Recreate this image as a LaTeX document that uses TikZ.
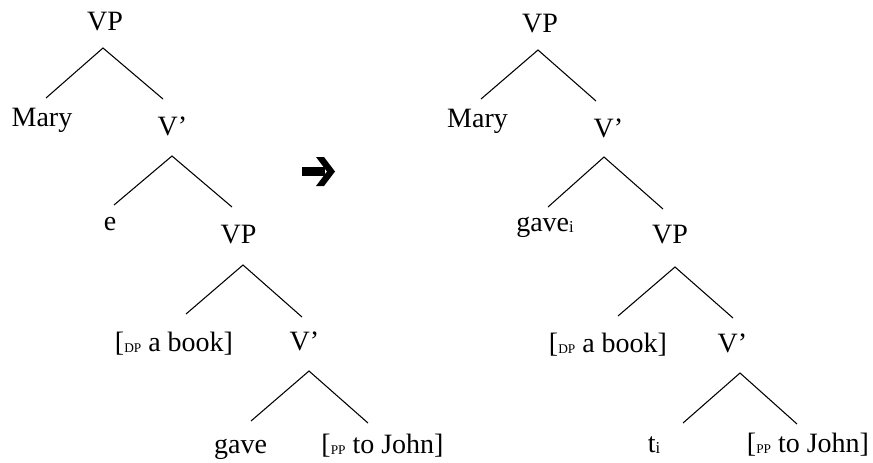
\documentclass[tikz,border=0pt]{standalone}
\usepackage{fontspec}
\setmainfont{Liberation Serif}
% small subscript used inside labels
\newcommand{\lsub}[1]{\raisebox{-0.9pt}{\fontsize{10}{10}\selectfont #1}}
\newcommand{\isub}[1]{\raisebox{-1pt}{\fontsize{12.5}{12.5}\selectfont #1}}
\begin{document}
\begin{tikzpicture}[x=0.75pt,y=-0.75pt,
  lbl/.style={anchor=base, inner sep=0pt, font=\fontsize{21}{25}\selectfont},
  branch/.style={draw=black, line width=0.8pt}]
\path[use as bounding box] (0,0) rectangle (873,462);

% ---------- left tree: before movement ----------
\node[lbl] (lVP)    at (105,30)  {VP};
\node[lbl] (lMary)  at (42,126)  {Mary};
\node[lbl] (lVb)    at (172.5,135) {V’};
\node[lbl] (lE)     at (110,230) {e};
\node[lbl] (lVPb)   at (238.5,243) {VP};
\node[lbl] (lDP)    at (174,351) {[\lsub{DP} a book]};
\node[lbl] (lVbb)   at (304.5,350) {V’};
\node[lbl] (lGave)  at (240.5,453) {gave};
\node[lbl] (lPP)    at (382.5,453) {[\lsub{PP} to John]};

\coordinate (la1) at (103,48);  \coordinate (ll1) at (46,98);   \coordinate (lr1) at (163,99);
\coordinate (la2) at (172,156); \coordinate (ll2) at (114,205); \coordinate (lr2) at (232,207);
\coordinate (la3) at (243,265); \coordinate (ll3) at (186,314); \coordinate (lr3) at (302,317);
\coordinate (la4) at (309,371); \coordinate (ll4) at (251,421); \coordinate (lr4) at (368,423);

\draw[branch] (ll1) -- (la1) -- (lr1);
\draw[branch] (ll2) -- (la2) -- (lr2);
\draw[branch] (ll3) -- (la3) -- (lr3);
\draw[branch] (ll4) -- (la4) -- (lr4);

% ---------- arrow between the trees ----------
\fill[black] (302,167) -- (325,167) -- (325,176) -- (302,176) -- cycle;
\fill[black] (316,157) -- (324,157) -- (335,171.5) -- (324,186) -- (316,186) -- (327,171.5) -- cycle;

% ---------- right tree: after movement ----------
\node[lbl] (rVP)    at (540,32)  {VP};
\node[lbl] (rMary)  at (477.5,127) {Mary};
\node[lbl] (rVb)    at (608.5,137) {V’};
\node[lbl] (rGave)  at (545,231) {gave\isub{i}};
\node[lbl] (rVPb)   at (670,243) {VP};
\node[lbl] (rDP)    at (608,352) {[\lsub{DP} a book]};
\node[lbl] (rVbb)   at (732.5,352) {V’};
\node[lbl] (rT)     at (654,452) {t\isub{i}};
\node[lbl] (rPP)    at (808,452) {[\lsub{PP} to John]};

\coordinate (ra1) at (538,50);  \coordinate (rl1) at (481,99);  \coordinate (rr1) at (596,101);
\coordinate (ra2) at (604,157); \coordinate (rl2) at (548,207); \coordinate (rr2) at (663,209);
\coordinate (ra3) at (675,267); \coordinate (rl3) at (618,316); \coordinate (rr3) at (733,318);
\coordinate (ra4) at (740,373); \coordinate (rl4) at (683,423); \coordinate (rr4) at (797,424);

\draw[branch] (rl1) -- (ra1) -- (rr1);
\draw[branch] (rl2) -- (ra2) -- (rr2);
\draw[branch] (rl3) -- (ra3) -- (rr3);
\draw[branch] (rl4) -- (ra4) -- (rr4);
\end{tikzpicture}
\end{document}
